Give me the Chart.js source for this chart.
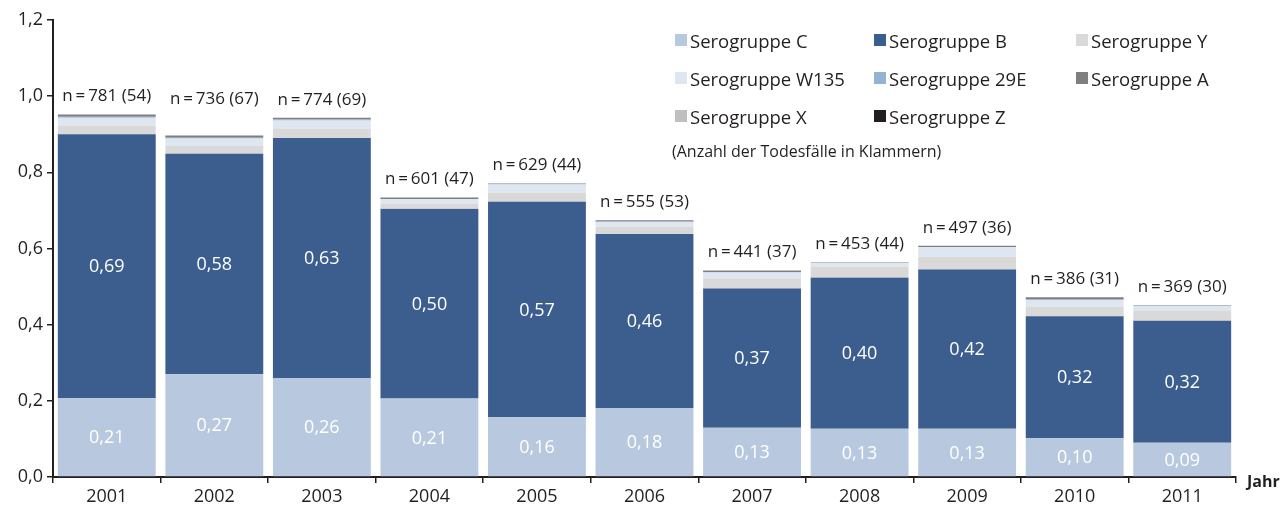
<!DOCTYPE html>
<html>
<head>
<meta charset="utf-8">
<script src="https://cdn.jsdelivr.net/npm/chart.js@4/dist/chart.umd.min.js"></script>
<style>
  html, body { margin: 0; padding: 0; background: #fff; }
  #wrap { position: relative; width: 1288px; height: 511px; }
  #legend {
    position: absolute; left: 675px; top: 28px;
    font-family: "Open Sans", sans-serif; font-size: 18.5px; color: #231f20;
  }
  #legend .grid { display: grid; grid-template-columns: 199px 202px 200px; row-gap: 14px; }
  #legend .item { display: flex; align-items: center; height: 24px; white-space: nowrap; }
  #legend .box { width: 12px; height: 12px; margin-right: 3px; flex: none; }
  #legend .note { font-size: 16px; margin-top: 12px; margin-left: -3px; }
</style>
</head>
<body>
<div id="wrap">
  <canvas id="seroChart" width="1288" height="511"></canvas>
  <div id="legend"></div>
</div>
<script>
// Inzidenz pro 100.000 nach Serogruppe
const years = ['2001', '2002', '2003', '2004', '2005', '2006', '2007', '2008', '2009', '2010', '2011'];
const seroC    = [0.207, 0.270, 0.260, 0.206, 0.157, 0.181, 0.129, 0.127, 0.127, 0.102, 0.090];
const seroB    = [0.693, 0.579, 0.630, 0.498, 0.566, 0.457, 0.366, 0.396, 0.418, 0.320, 0.320];
const seroX    = [0.001, 0.001, 0.001, 0.002, 0.001, 0.001, 0.002, 0.002, 0.001, 0.001, 0.001];
const seroY    = [0.022, 0.019, 0.024, 0.012, 0.023, 0.018, 0.024, 0.028, 0.033, 0.025, 0.026];
const seroW135 = [0.020, 0.020, 0.021, 0.011, 0.021, 0.012, 0.016, 0.008, 0.024, 0.017, 0.012];
const sero29E  = [0.003, 0.002, 0.003, 0.001, 0.001, 0.002, 0.001, 0.001, 0.001, 0.001, 0.001];
const seroA    = [0.006, 0.006, 0.004, 0.004, 0.002, 0.003, 0.004, 0.001, 0.003, 0.006, 0.001];
const seroZ    = [0, 0, 0, 0, 0, 0, 0, 0, 0, 0, 0];
const nCases   = [781, 736, 774, 601, 629, 555, 441, 453, 497, 386, 369];
const nDeaths  = [54, 67, 69, 47, 44, 53, 37, 44, 36, 31, 30];
const yTicks   = [0, 0.2, 0.4, 0.6, 0.8, 1.0, 1.2];

const FONT = '"Open Sans", sans-serif';
const TEXT = '#231f20';

const fmt = (v, d) => v.toFixed(d).replace('.', ',');

// Reihenfolge im Stapel (unten -> oben)
const datasets = [
    { label: 'Serogruppe C',    data: seroC,    backgroundColor: '#b8c9df', legendPos: 0 },
    { label: 'Serogruppe B',    data: seroB,    backgroundColor: '#3c5e8e', legendPos: 1 },
    { label: 'Serogruppe X',    data: seroX,    backgroundColor: '#bfbfbf', legendPos: 6 },
    { label: 'Serogruppe Y',    data: seroY,    backgroundColor: '#d9d9d9', legendPos: 2 },
    { label: 'Serogruppe W135', data: seroW135, backgroundColor: '#dee6f1', legendPos: 3 },
    { label: 'Serogruppe 29E',  data: sero29E,  backgroundColor: '#95b1d3', legendPos: 4 },
    { label: 'Serogruppe A',    data: seroA,    backgroundColor: '#7f7f7f', legendPos: 5 },
    { label: 'Serogruppe Z',    data: seroZ,    backgroundColor: '#231f20', legendPos: 7 }
];

// Werte in C- und B-Segmenten, n-Angaben ueber den Balken, "Jahr"
const barTextPlugin = {
    id: 'barText',
    afterDatasetsDraw(chart) {
        const ctx = chart.ctx;
        const yScale = chart.scales.y;
        ctx.save();
        ctx.textAlign = 'center';
        ctx.textBaseline = 'middle';
        ctx.fillStyle = '#ffffff';
        ctx.font = '18px ' + FONT;
        [0, 1].forEach(di => {
            chart.getDatasetMeta(di).data.forEach((el, i) => {
                const v = chart.data.datasets[di].data[i];
                ctx.fillText(fmt(v, 2), el.x, (el.y + el.base) / 2 + 1);
            });
        });

        ctx.fillStyle = TEXT;
        ctx.font = '17px ' + FONT;
        const lift = { 1: 36 };
        chart.getDatasetMeta(0).data.forEach((el, i) => {
            const total = chart.data.datasets.reduce((s, ds) => s + ds.data[i], 0);
            const top = yScale.getPixelForValue(total);
            const y = top - (lift[i] || 18);
            ctx.fillText('n\u2009=\u2009' + nCases[i] + ' (' + nDeaths[i] + ')', el.x, y);
        });

        const area = chart.chartArea;
        ctx.textAlign = 'left';
        ctx.font = 'bold 16px ' + FONT;
        ctx.fillText('Jahr', area.right + 11, area.bottom + 5);
        ctx.restore();
    }
};

const chart = new Chart(document.getElementById('seroChart'), {
    type: 'bar',
    data: { labels: years, datasets: datasets },
    plugins: [barTextPlugin],
    options: {
        responsive: false,
        animation: false,
        layout: { padding: { top: 20, right: 52, left: 0, bottom: 0 } },
        plugins: {
            legend: { display: false },
            tooltip: { enabled: false }
        },
        datasets: {
            bar: { barPercentage: 0.91, categoryPercentage: 1.0, borderWidth: 0 }
        },
        scales: {
            x: {
                stacked: true,
                afterFit: s => { s.height = 34; },
                border: { color: TEXT, width: 2 },
                grid: { offset: true, drawOnChartArea: false, tickLength: 6, color: TEXT, lineWidth: 1.5 },
                ticks: { color: TEXT, font: { family: FONT, size: 18 }, padding: 3 }
            },
            y: {
                stacked: true,
                min: 0,
                max: 1.2,
                afterFit: s => { s.width = 53; },
                afterBuildTicks: s => { s.ticks = yTicks.map(v => ({ value: v })); },
                border: { color: TEXT, width: 2 },
                grid: { drawOnChartArea: false, tickLength: 6, color: TEXT, lineWidth: 1.5 },
                ticks: {
                    color: TEXT,
                    font: { family: FONT, size: 18 },
                    padding: 4,
                    callback: v => fmt(v, 1)
                }
            }
        }
    }
});

// Legende als Raster (3 Spalten) aus den Datensaetzen
const legendEl = document.getElementById('legend');
const grid = document.createElement('div');
grid.className = 'grid';
datasets.slice().sort((a, b) => a.legendPos - b.legendPos).forEach(ds => {
    const item = document.createElement('div');
    item.className = 'item';
    item.innerHTML = '<span class="box" style="background:' + ds.backgroundColor + '"></span>' + ds.label;
    grid.appendChild(item);
});
legendEl.appendChild(grid);
const note = document.createElement('div');
note.className = 'note';
note.textContent = '(Anzahl der Todesfälle in Klammern)';
legendEl.appendChild(note);
</script>
</body>
</html>
